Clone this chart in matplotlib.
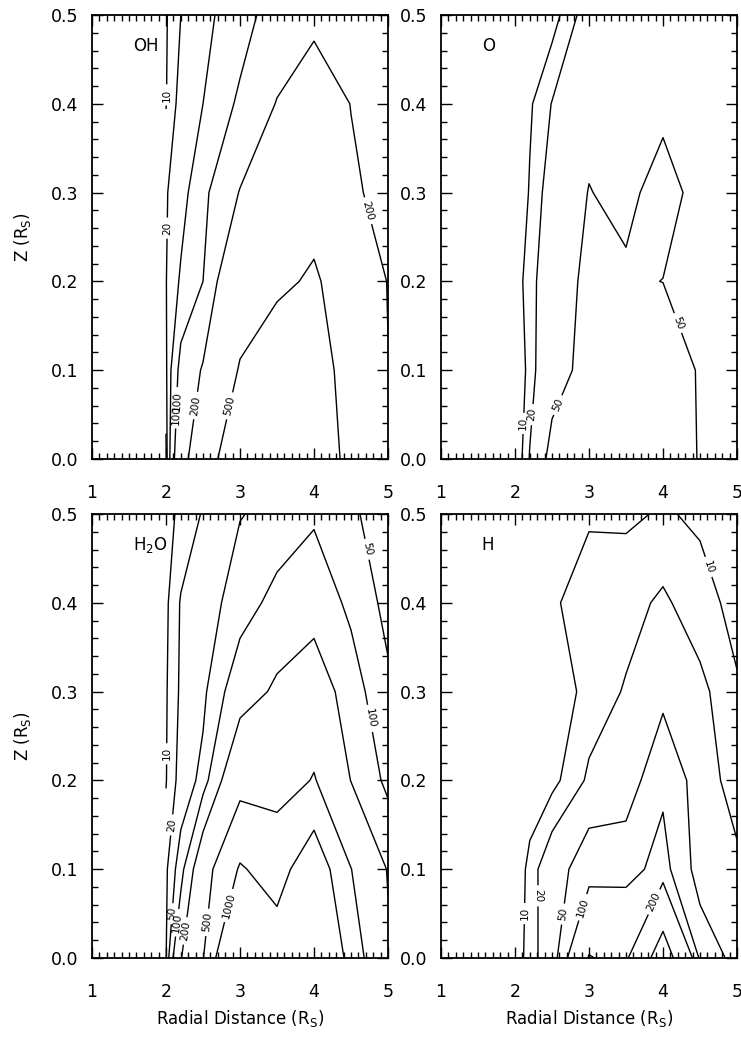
import numpy as np
import matplotlib
matplotlib.use("Agg")
import matplotlib.pyplot as plt
from matplotlib.ticker import MultipleLocator, FormatStrFormatter

plt.rcParams['font.family'] = ['DejaVu Sans']

# model grid: radial distance (R_S) and height above the ring plane (R_S)
r_grid = [2.0, 2.2, 2.5, 3.0, 3.5, 4.0, 4.5, 5.0]
z_grid = [0.0, 0.1, 0.2, 0.3, 0.4, 0.5]

# densities, one row per z value
oh_density = [
    [8, 170, 260, 860, 950, 1000, 290, 205],
    [15, 120, 210, 520, 700, 800, 250, 203],
    [19, 55, 100, 360, 440, 540, 330, 195],
    [18, 35, 80, 205, 310, 380, 215, 170],
    [9.5, 25, 50, 110, 205, 260, 198, 150],
    [9, 20, 38, 75, 130, 175, 170, 120],
]
o_density = [
    [0, 21, 61, 90, 100, 105, 45, 30],
    [0, 14, 36.5, 61, 80, 85, 45, 30],
    [0, 19, 22.3, 62, 55, 49.5, 40, 30],
    [0, 11, 27, 51, 42, 63, 39, 30],
    [0, 8.5, 20.5, 41, 38, 42, 32, 25],
    [0, 3, 5.2, 27, 32, 35, 28, 22],
]
h2o_density = [
    [18, 190, 480, 2000, 1300, 2500, 650, 230],
    [15, 70, 300, 1050, 783, 1377, 505, 187],
    [9.5, 25, 62, 336, 341, 520, 195, 78],
    [9, 22, 40, 142, 220, 300, 125, 60],
    [8, 21, 28, 72, 120, 133, 89, 35],
    [7, 12, 21, 48, 62, 93, 58, 25],
]
h_density = [
    [0, 17.2, 24.8, 205, 170, 664, 82, 35],
    [0, 14.3, 29.8, 74, 82, 118, 28.7, 23],
    [0, 1, 6.6, 22, 23, 90, 27.5, 14],
    [0, 0, 2, 14, 21, 37, 23.2, 11],
    [0, 0, 9.4, 12, 16, 22, 13.7, 7],
    [0, 0, 5, 9.5, 8.3, 11, 8.4, 6],
]

oh_levels = [10, 20, 50, 100, 200, 500]
o_levels = [10, 20, 50]
h2o_levels = [10, 20, 50, 100, 200, 500, 1000]
h_levels = [10, 20, 50, 100, 200, 500]

species = ["OH", "O", "H$_2$O", "H"]

# where the contour labels sit (the nearest contour gets the label)
label_spots = [
    [(2.02, 0.41), (2.05, 0.26), (2.1, 0.05), (2.2, 0.06), (2.42, 0.06),
     (2.85, 0.06), (4.75, 0.28)],
    [(2.12, 0.04), (2.22, 0.05), (2.6, 0.06), (4.1, 0.15)],
    [(2.0, 0.23), (2.06, 0.15), (2.06, 0.05), (2.12, 0.04), (2.3, 0.03),
     (2.57, 0.04), (2.8, 0.06), (4.77, 0.27), (4.7, 0.46)],
    [(2.14, 0.05), (2.31, 0.07), (2.6, 0.05), (2.8, 0.06), (3.7, 0.07),
     (4.6, 0.44)],
]


def style_axes(ax, left_label, bottom_label):
    """IDL-like box axes with inward ticks on all four sides."""
    ax.set_xlim(1, 5)
    ax.set_ylim(0, 0.5)
    ax.xaxis.set_major_locator(MultipleLocator(1))
    ax.xaxis.set_minor_locator(MultipleLocator(0.1))
    ax.yaxis.set_major_locator(MultipleLocator(0.1))
    ax.yaxis.set_minor_locator(MultipleLocator(0.02))
    ax.yaxis.set_major_formatter(FormatStrFormatter('%.1f'))
    ax.tick_params(which='both', direction='in', top=True, right=True,
                   labelsize=12.5, width=1.0)
    ax.tick_params(axis='x', pad=18)
    ax.tick_params(axis='y', pad=10)
    ax.tick_params(which='major', length=8)
    ax.tick_params(which='minor', length=4)
    for sp in ax.spines.values():
        sp.set_linewidth(1.3)
    if left_label:
        ax.set_ylabel(r'Z (R$_\mathregular{S}$)', fontsize=12, labelpad=13)
    if bottom_label:
        ax.set_xlabel(r'Radial Distance (R$_\mathregular{S}$)', fontsize=12,
                      labelpad=5)


def draw_panel(ax, density, levels, name, spots):
    r, z = np.meshgrid(r_grid, z_grid)
    cs = ax.contour(r, z, np.array(density, dtype=float), levels=levels,
                    colors='k', linewidths=1.0)
    ax.clabel(cs, fmt='%d', fontsize=7.5, inline=True, inline_spacing=4,
              manual=spots)
    ax.text(1.55, 0.465, name, fontsize=12, ha='left', va='center')


def main():
    fig = plt.figure(figsize=(7.41, 10.38), dpi=100)
    w, h = 296 / 741, 444 / 1038
    lefts = [92 / 741, 441 / 741]
    bottoms = [1 - 459 / 1038, 1 - 958 / 1038]
    data = [oh_density, o_density, h2o_density, h_density]
    levels = [oh_levels, o_levels, h2o_levels, h_levels]
    for i in range(4):
        row, col = divmod(i, 2)
        ax = fig.add_axes([lefts[col], bottoms[row], w, h])
        style_axes(ax, col == 0, row == 1)
        draw_panel(ax, data[i], levels[i], species[i], label_spots[i])
    fig.savefig("out.png", dpi=100)


main()
